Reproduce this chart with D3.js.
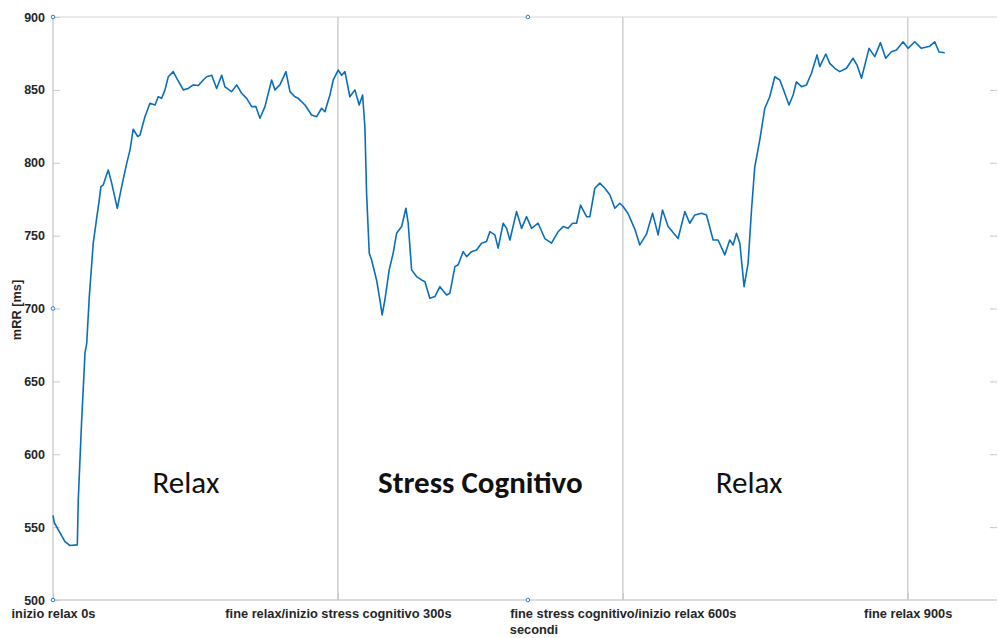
<!DOCTYPE html>
<html>
<head>
<meta charset="utf-8">
<script src="https://cdn.jsdelivr.net/npm/d3@7"></script>
<style>
  html, body { margin: 0; padding: 0; background: #fff; }
  svg { display: block; }
</style>
</head>
<body>
<svg id="chart" width="998" height="638"></svg>
<script>
// mean RR interval over the session (time in s, mRR in ms)
const timeSec = [
  0, 1.4, 7.4, 12.6, 17.9, 25.6, 26.6, 30.2, 33.7, 35.5, 38.2, 42.4, 46, 48.7, 50.5, 52.9, 55.8, 58.2,
  61.8, 67.7, 72.3, 77.6, 81.1, 84.5, 89.2, 91.6, 96.8, 102.1, 107.4, 110.8, 114.4, 117.9, 121.4,
  126.6, 130.2, 137.2, 142.4, 147.7, 153, 158.2, 161.8, 167.1, 172.3, 177.6, 181.1, 188.1, 193.4,
  198.6, 203.9, 209.2, 213.7, 217.9, 223.2, 230.2, 233.7, 238.9, 245.3, 249.5, 254.7, 258.2, 265.3,
  272.3, 277.6, 282.8, 286.3, 291.6, 295.1, 300.3, 303.9, 307.4, 312.6, 317.9, 322.4, 326, 328.4,
  330.2, 333, 335.5, 340.7, 344.2, 346.6, 349.5, 354, 358.2, 361.8, 367.1, 371.6, 374, 377.6, 382.8,
  388.1, 391.6, 396.8, 402.1, 407.4, 414.4, 417.9, 423.2, 426.6, 431.9, 435.5, 440.7, 446, 451.3,
  456.5, 460, 465.3, 468.7, 474, 477.6, 481.1, 488.1, 493.4, 498.6, 503.9, 510.8, 517.9, 524.9,
  531.9, 537.2, 542.4, 547.1, 551.3, 555.5, 561.8, 565.3, 570.5, 575.8, 581.1, 586.3, 591.6, 596.8,
  600.3, 605.6, 612.6, 617.9, 624.9, 631.3, 637.2, 641.8, 647.7, 658.2, 665.3, 670.5, 675.8, 682.8,
  688.1, 695.1, 700.3, 707.4, 712.6, 716.1, 719.7, 723.2, 727.7, 731.9, 735.5, 738.9, 744.2, 749.5,
  754.7, 760, 765.3, 768.7, 775, 779.3, 782.8, 788.1, 793.4, 798.6, 804.5, 807.4, 813.7, 817.9,
  823.2, 828.4, 835.5, 842.4, 846.6, 851.3, 859.3, 865.3, 871.3, 876.8, 882.8, 888.1, 895.1, 900.3,
  907.4, 914.4, 923.2, 928.4, 933, 939
];
const mRR = [
  558, 553, 546, 540, 537.4, 537.8, 568.7, 623.6, 669.5, 676, 708, 745, 762, 774.5, 783.6, 784.8, 790.5, 795,
  786, 768.8, 783.6, 799.6, 808.8, 823, 818, 819, 831.6, 840.8, 839.6, 845.3, 844.2, 850, 859,
  862.5, 858, 850, 851, 853.4, 853, 856.8, 859, 860, 851, 860, 852, 848.8, 853.4,
  847.7, 844.2, 838.5, 838.5, 830.5, 838.5, 856.8, 850, 853.4, 862.5, 848.8, 845.3, 844.2, 839.6,
  832.8, 831.6, 837.4, 835, 846.5, 856.8, 863.6, 860, 862.5, 845.3, 850, 839.6, 846.5, 824.8,
  779, 738, 733.3, 719.6, 705.9, 695.6, 706, 726.5, 738, 751.6, 756.2, 768.8, 758.5, 726.5, 721.9,
  719.6, 718.4, 707, 708.2, 715, 709.3, 710.5, 728.7, 730, 739, 735.6, 739, 740.2, 744.8,
  745.9, 752.7, 750.5, 741.4, 758.5, 755, 747, 766.5, 755, 763, 755, 758.5, 748, 744.8,
  752.7, 756.2, 755, 758.5, 758.5, 771, 763, 763, 782.5, 786, 782.5, 778, 768.8, 772.2,
  770, 765, 754.5, 743.6, 751, 765.4, 750.5, 767.6, 756.2, 748, 766.5, 758.5, 764.2, 765.4,
  764.2, 747, 747, 736.8, 747, 743.6, 751.6, 744.8, 715, 731, 767.6, 797, 815.6, 837.4,
  845.3, 859, 856.8, 851, 839.6, 846.5, 855.6, 852.2, 853.4, 861.4, 874, 866, 874.6, 868.2,
  864.8, 862.5, 864.8, 871.7, 867, 858, 878.5, 872.8, 882.4, 871.7, 876.2, 877.4, 883, 878.5,
  883, 878.5, 880, 883, 876, 875.5
];

// axis ticks and labels
const yTicks = [500, 550, 600, 650, 700, 750, 800, 850, 900];
const xTicks = [0, 300, 600, 900];
const xTickLabels = [
  "inizio relax 0s",
  "fine relax/inizio stress cognitivo 300s",
  "fine stress cognitivo/inizio relax 600s",
  "fine relax 900s"
];
// phase boundaries drawn as vertical lines
const phaseLines = [300, 600, 900];
// phase annotations
const phaseNames = ["Relax", "Stress Cognitivo", "Relax"];
const phaseCenters = [140, 450, 733];
const phaseBold = [false, true, false];
// small marker points
const markerT = [0, 500, 0, 0, 500];
const markerV = [900, 900, 700, 500, 500];

const svg = d3.select("#chart");
const pLeft = 53, pRight = 997, pTop = 17, pBottom = 600;

const x = d3.scaleLinear().domain([0, 994]).range([pLeft, pRight]);
const y = d3.scaleLinear().domain([500, 900]).range([pBottom, pTop]);

const gridColor = "#cfcfcf";
const tickFont = "'Liberation Sans', Arial, Helvetica, sans-serif";

// frame edges
svg.append("line").attr("x1", pLeft).attr("x2", pRight).attr("y1", y(900)).attr("y2", y(900))
  .attr("stroke", "#e3e3e3").attr("stroke-width", 1.5);
svg.append("line").attr("x1", pLeft).attr("x2", pRight).attr("y1", y(500)).attr("y2", y(500))
  .attr("stroke", gridColor).attr("stroke-width", 1.5);
svg.append("line").attr("x1", pLeft).attr("x2", pLeft).attr("y1", pTop).attr("y2", pBottom)
  .attr("stroke", gridColor).attr("stroke-width", 1.5);

// phase boundary lines
svg.selectAll("line.phase").data(phaseLines).join("line")
  .attr("class", "phase")
  .attr("x1", d => x(d)).attr("x2", d => x(d))
  .attr("y1", pTop).attr("y2", pBottom)
  .attr("stroke", gridColor).attr("stroke-width", 1.5);

// left axis
const yAxis = d3.axisLeft(y).tickValues(yTicks).tickSize(-7).tickPadding(10).tickFormat(d3.format("d"));
const gy = svg.append("g").attr("transform", `translate(${pLeft},0)`).call(yAxis);
gy.select(".domain").remove();
gy.selectAll(".tick line").attr("stroke", "#c8c8c8").attr("stroke-width", 1);
gy.selectAll(".tick text").attr("fill", "#262626").attr("font-size", 12.5)
  .attr("font-weight", "bold").attr("font-family", tickFont).attr("dx", 2);

// right edge inner ticks
const yAxisR = d3.axisRight(y).tickValues(yTicks.slice(1, -1)).tickSize(-7).tickFormat("");
const gyr = svg.append("g").attr("transform", `translate(${pRight},0)`).call(yAxisR);
gyr.select(".domain").remove();
gyr.selectAll(".tick line").attr("stroke", "#c8c8c8").attr("stroke-width", 1);

// bottom axis
const xAxis = d3.axisBottom(x).tickValues(xTicks).tickSize(-7).tickPadding(9)
  .tickFormat((d, i) => xTickLabels[i]);
const gx = svg.append("g").attr("transform", `translate(0,${pBottom})`).call(xAxis);
gx.select(".domain").remove();
gx.selectAll(".tick line").attr("stroke", "#c8c8c8").attr("stroke-width", 1);
gx.selectAll(".tick text").attr("fill", "#262626").attr("font-size", 12.8)
  .attr("font-weight", "bold").attr("font-family", tickFont);

// axis titles
svg.append("text").attr("x", 534).attr("y", 634).attr("text-anchor", "middle")
  .attr("font-size", 12.8).attr("font-weight", "bold").attr("font-family", tickFont)
  .attr("fill", "#262626").text("secondi");
svg.append("text").attr("transform", "translate(21,310) rotate(-90)").attr("text-anchor", "middle")
  .attr("font-size", 12.8).attr("font-weight", "bold").attr("font-family", tickFont)
  .attr("fill", "#262626").text("mRR [ms]");

// mRR trace
const series = timeSec.map((t, i) => [t, mRR[i]]);
svg.append("path").datum(series)
  .attr("fill", "none").attr("stroke", "#0a6fb8").attr("stroke-width", 1.6)
  .attr("stroke-linejoin", "round")
  .attr("d", d3.line().x(d => x(d[0])).y(d => y(d[1])));

// marker points
svg.selectAll("circle.mk").data(markerT).join("circle")
  .attr("class", "mk")
  .attr("cx", d => x(d)).attr("cy", (d, i) => y(markerV[i]))
  .attr("r", 1.8).attr("fill", "#fff").attr("stroke", "#2b7bbf").attr("stroke-width", 1);

// phase annotations
svg.selectAll("text.phase").data(phaseNames).join("text")
  .attr("class", "phase")
  .attr("x", (d, i) => x(phaseCenters[i])).attr("y", 493)
  .attr("text-anchor", "middle")
  .attr("font-family", "Carlito, 'Open Sans', Lato, sans-serif")
  .attr("font-size", 31)
  .attr("font-weight", (d, i) => phaseBold[i] ? "bold" : "normal")
  .attr("fill", "#111")
  .text(d => d);
</script>
</body>
</html>
